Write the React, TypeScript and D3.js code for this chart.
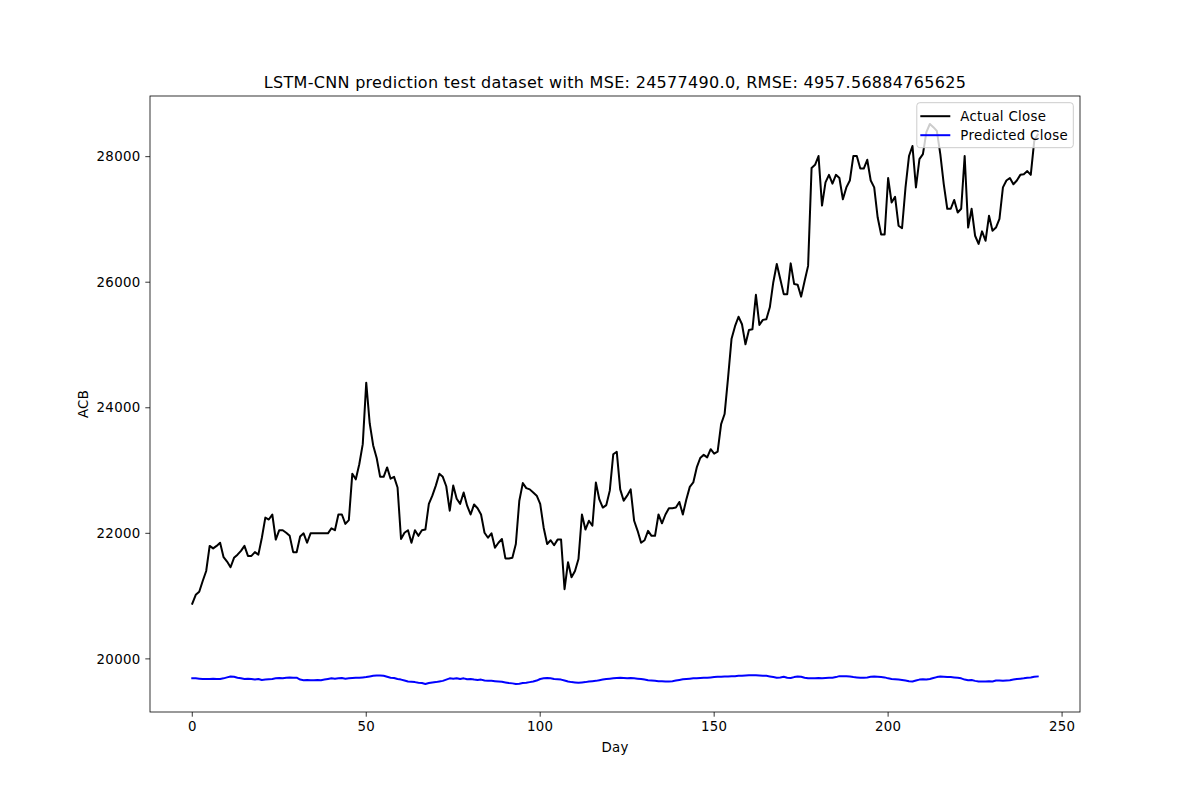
import * as d3 from "d3";

// day-by-day closing price
const actualClose = [
  20880, 21020, 21070, 21240, 21400, 21800, 21760, 21800, 21850, 21620,
  21550, 21460, 21610, 21660, 21720, 21800, 21640, 21640, 21700, 21660,
  21930, 22250, 22220, 22300, 21900, 22050, 22050, 22010, 21960, 21700,
  21700, 21950, 22000, 21850, 22000, 22000, 22000, 22000, 22000, 22000,
  22080, 22050, 22300, 22300, 22150, 22210, 22950, 22860, 23100, 23420,
  24400, 23750, 23400, 23200, 22900, 22900, 23050, 22870, 22900, 22730,
  21910, 22010, 22050, 21850, 22050, 21960, 22050, 22060, 22470, 22600,
  22760, 22950, 22900, 22750, 22360, 22760, 22550, 22470, 22650, 22440,
  22300, 22460, 22400, 22300, 22010, 21930, 22000, 21770, 21850, 21910,
  21600, 21600, 21610, 21830, 22520, 22800, 22720, 22700, 22650, 22600,
  22470, 22090, 21830, 21890, 21810, 21900, 21900, 21110, 21540, 21300,
  21400, 21590, 22300, 22060, 22200, 22120, 22810, 22540, 22410, 22450,
  22680, 23260, 23300, 22700, 22520, 22600, 22700, 22200, 22040, 21850,
  21890, 22040, 21960, 21960, 22300, 22160, 22300, 22400, 22400, 22410,
  22500, 22300, 22540, 22740, 22810, 23050, 23200, 23250, 23210, 23340,
  23270, 23300, 23740, 23900, 24480, 25100, 25300, 25450, 25330, 25010,
  25240, 25250, 25800, 25320, 25400, 25410, 25600, 26000, 26290, 26050,
  25810, 25810, 26300, 25970, 25960, 25770, 26020, 26260, 27820, 27870,
  28010, 27220, 27590, 27710, 27570, 27710, 27660, 27320, 27510, 27620,
  28010, 28010, 27810, 27810, 27950, 27620, 27510, 27030, 26760, 26760,
  27660, 27270, 27360, 26900, 26860, 27510, 28010, 28170, 27510, 27960,
  28040, 28390, 28520, 28470, 28410, 28040, 27560, 27170, 27170, 27310,
  27110, 27170, 28010, 26870, 27170, 26740, 26610, 26810, 26660, 27060,
  26820, 26870, 27010, 27510, 27620, 27660, 27560, 27620, 27710, 27720,
  27770, 27710, 28250, 28350,
];

const predictedClose = [
  19690, 19690, 19685, 19680, 19680, 19680, 19685, 19680, 19680, 19690,
  19705, 19720, 19715, 19700, 19690, 19680, 19685, 19680, 19670, 19680,
  19665, 19670, 19675, 19680, 19690, 19695, 19690, 19700, 19705, 19700,
  19700, 19670, 19660, 19665, 19660, 19660, 19665, 19660, 19670, 19680,
  19690, 19685, 19690, 19695, 19685, 19690, 19695, 19700, 19700, 19705,
  19710, 19720, 19730, 19735, 19735, 19730, 19715, 19700, 19695, 19680,
  19670, 19655, 19640, 19635, 19630, 19620, 19615, 19600, 19615, 19625,
  19630, 19640, 19650, 19670, 19690, 19685, 19690, 19680, 19690, 19675,
  19680, 19670, 19665, 19670, 19655, 19650, 19650, 19645, 19640, 19635,
  19625, 19615, 19610, 19600, 19605, 19615, 19620, 19630, 19640, 19655,
  19680, 19690, 19695, 19690, 19680, 19675, 19670, 19655, 19640, 19630,
  19625, 19620, 19625, 19630, 19640, 19645, 19650, 19660, 19670, 19680,
  19685, 19690, 19695, 19700, 19695, 19690, 19695, 19690, 19685, 19680,
  19670, 19660, 19655, 19650, 19645, 19645, 19640, 19640, 19645, 19655,
  19665, 19675, 19680, 19685, 19690, 19690, 19695, 19700, 19700, 19705,
  19710, 19715, 19715, 19720, 19720, 19725, 19725, 19730, 19730, 19735,
  19740, 19740, 19740, 19735, 19730, 19730, 19720, 19710, 19700, 19705,
  19715, 19700, 19695, 19710, 19720, 19715, 19700, 19690, 19690, 19690,
  19695, 19690, 19695, 19700, 19700, 19710, 19725, 19725, 19725, 19720,
  19710, 19705, 19700, 19700, 19705, 19715, 19720, 19715, 19710, 19705,
  19690, 19680, 19675, 19670, 19665, 19655, 19645, 19640, 19655, 19670,
  19675, 19670, 19680, 19695, 19710, 19720, 19715, 19710, 19710, 19705,
  19700, 19690, 19670, 19660, 19665, 19650, 19640, 19640, 19640, 19645,
  19640, 19655, 19655, 19650, 19655, 19660, 19670, 19680, 19685, 19690,
  19700, 19705, 19715, 19720,
];

const xTicks = [0, 50, 100, 150, 200, 250];
const yTicks = [20000, 22000, 24000, 26000, 28000];
const seriesNames = ["Actual Close", "Predicted Close"];
const seriesColors = ["#000000", "#0000ff"];
const title = "LSTM-CNN prediction test dataset with MSE: 24577490.0, RMSE: 4957.56884765625";

const WIDTH = 1200;
const HEIGHT = 800;
const MARGIN = { top: 96, right: 120, bottom: 88, left: 150 };
const FONT = "DejaVu Sans, sans-serif";

function PredictionChart() {
  const boundsWidth = WIDTH - MARGIN.left - MARGIN.right;
  const boundsHeight = HEIGHT - MARGIN.top - MARGIN.bottom;

  const n = actualClose.length;
  // matplotlib style 5% padding on both axes
  const xPad = (n - 1) * 0.05;
  const xScale = d3.scaleLinear()
    .domain([-xPad, n - 1 + xPad])
    .range([0, boundsWidth]);

  const all = actualClose.concat(predictedClose);
  const [yMin, yMax] = d3.extent(all) as [number, number];
  const yPad = (yMax - yMin) * 0.05;
  const yScale = d3.scaleLinear()
    .domain([yMin - yPad, yMax + yPad])
    .range([boundsHeight, 0]);

  const line = d3.line<number>()
    .x((_, i) => xScale(i))
    .y((d) => yScale(d));

  const series = [actualClose, predictedClose];

  // legend box, upper right
  const lgW = 156.5;
  const lgH = 45;
  const lgX = boundsWidth - 6.7 - lgW;
  const lgY = 6.7;

  return (
    <svg width={WIDTH} height={HEIGHT} style={{ position: "absolute", left: 0, top: 0 }} fontFamily={FONT} letterSpacing={0.3}>
      <rect width={WIDTH} height={HEIGHT} fill="#ffffff" />
      <text x={MARGIN.left + boundsWidth / 2} y={MARGIN.top - 7.7} textAnchor="middle" fontSize={16} fill="#000">
        {title}
      </text>
      <g transform={`translate(${MARGIN.left},${MARGIN.top})`}>
        {series.map((s, i) => (
          <path key={i} d={line(s) || ""} fill="none" stroke={seriesColors[i]} strokeWidth={2} strokeLinejoin="round" strokeLinecap="square" />
        ))}

        {/* spines */}
        <rect x={0} y={0} width={boundsWidth} height={boundsHeight} fill="none" stroke="#000" strokeWidth={0.8} />

        {xTicks.map((t) => (
          <g key={t} transform={`translate(${xScale(t)},${boundsHeight})`}>
            <line y2={4.7} stroke="#000" strokeWidth={0.8} />
            <text y={19} textAnchor="middle" fontSize={13.33} fill="#000">{t}</text>
          </g>
        ))}
        {yTicks.map((t) => (
          <g key={t} transform={`translate(0,${yScale(t)})`}>
            <line x2={-4.7} stroke="#000" strokeWidth={0.8} />
            <text x={-9.5} dy="0.35em" textAnchor="end" fontSize={13.33} fill="#000">{t}</text>
          </g>
        ))}

        <text x={boundsWidth / 2} y={boundsHeight + 40} textAnchor="middle" fontSize={13.33} fill="#000">Day</text>
        <text transform={`translate(${-62},${boundsHeight / 2}) rotate(-90)`} textAnchor="middle" fontSize={13.33} fill="#000">ACB</text>

        <g transform={`translate(${lgX},${lgY})`}>
          <rect width={lgW} height={lgH} rx={3} fill="#ffffff" fillOpacity={0.8} stroke="#cccccc" strokeWidth={1} />
          {seriesNames.map((name, i) => (
            <g key={name} transform={`translate(0,${13.5 + i * 19})`}>
              <line x1={3.5} x2={33.5} stroke={seriesColors[i]} strokeWidth={2} />
              <text x={43.5} dy="0.35em" fontSize={13.33} fill="#000">{name}</text>
            </g>
          ))}
        </g>
      </g>
    </svg>
  );
}

export default function App() {
  return (
    <div>
      <PredictionChart />
    </div>
  );
}
